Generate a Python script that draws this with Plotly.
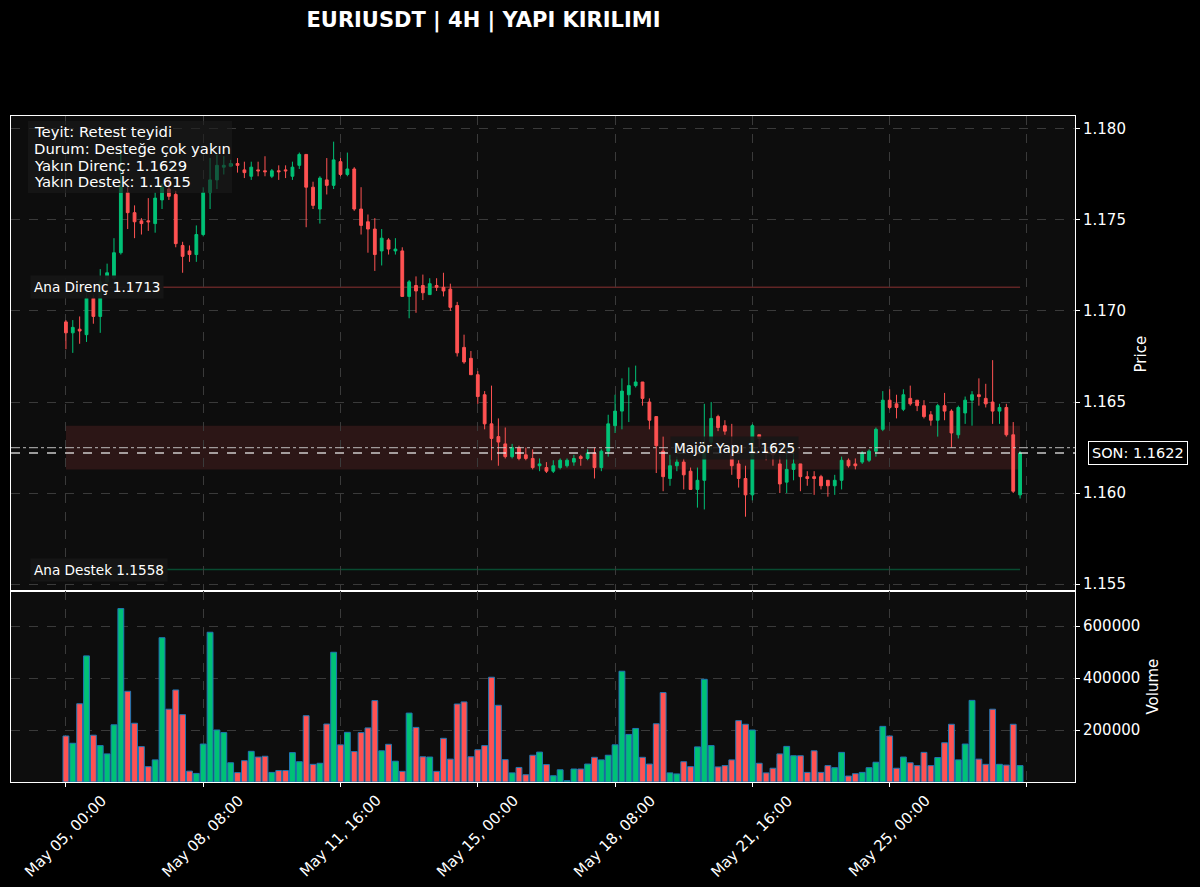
import plotly.graph_objects as go
from plotly.subplots import make_subplots

# ---------------- data (4H candles, index 0 = May 05 00:00) ----------------
opens = [1.1694,1.1688,1.1690,1.1687,1.1707,1.1697,1.1716,1.1718,1.1732,1.1765,
         1.1754,1.17495,1.17495,1.1748,1.1761,1.1767,1.1764,1.1736,1.1733,1.1731,
         1.1742,1.1765,1.1772,1.1779,1.17795,1.1781,1.17775,1.1774,1.17775,1.1777,
         1.1774,1.1777,1.17775,1.1774,1.1780,1.1786,1.1768,1.1756,1.1772,1.1769,
         1.1782,1.1775,1.1778,1.1756,1.1749,1.1745,1.1733,1.1739,1.1733,1.1733,
         1.1708,1.1714,1.1714,1.1709,1.1714,1.1713,1.1712,1.1703,1.1680,1.1674,
         1.1665,1.1654,1.1638,1.1631,1.1627,1.1620,1.1625,1.1621,1.1619,1.1615,
         1.1614,1.1612,1.1614,1.1615,1.1617,1.1620,1.1619,1.1622,1.1614,1.1623,
         1.1637,1.1645,1.1654,1.1659,1.1661,1.1650,1.1642,1.1623,1.1608,1.1615,
         1.1617,1.1612,1.1602,1.1607,1.1628,1.1642,1.1637,1.1621,1.1616,1.1608,
         1.1599,1.1632,1.1624,1.1622,1.1616,1.1606,1.1613,1.1616,1.1609,1.1609,
         1.1609,1.1607,1.1604,1.1607,1.1618,1.1616,1.1617,1.1618,1.1623,1.1635,
         1.1651,1.1649,1.1646,1.1652,1.1651,1.1648,1.1643,1.1640,1.1648,1.1645,
         1.1632,1.1644,1.1651,1.1654,1.1652,1.1650,1.1645,1.1647,1.1632,1.1599]
highs = [1.1695,1.1695,1.1697,1.1710,1.1709,1.1723,1.1726,1.1740,1.1790,1.1768,
         1.1758,1.1751,1.1762,1.1765,1.1770,1.1771,1.1766,1.1738,1.1736,1.1747,
         1.1768,1.1784,1.1786,1.1785,1.1783,1.1784,1.1782,1.1782,1.1782,1.1785,
         1.1778,1.1780,1.1780,1.1782,1.1787,1.1786,1.1771,1.1774,1.1784,1.1793,
         1.1784,1.1787,1.1779,1.1768,1.1753,1.1751,1.1745,1.1740,1.1740,1.1735,
         1.1717,1.1719,1.1720,1.1718,1.1718,1.1721,1.1715,1.1705,1.1687,1.1678,
         1.1667,1.1656,1.1659,1.1641,1.1636,1.1627,1.1626,1.1625,1.1624,1.1619,
         1.1617,1.1618,1.1619,1.1619,1.1621,1.1621,1.1624,1.1625,1.1624,1.1643,
         1.1654,1.1663,1.1669,1.1670,1.1661,1.1652,1.1642,1.1631,1.1621,1.1620,
         1.1619,1.1614,1.1614,1.1649,1.1650,1.1643,1.1640,1.1638,1.1618,1.1615,
         1.1638,1.1632,1.1627,1.1624,1.1620,1.1624,1.1626,1.1616,1.1612,1.1612,
         1.1610,1.1607,1.1610,1.1620,1.1619,1.1619,1.1623,1.1624,1.1636,1.1656,
         1.1657,1.1654,1.1657,1.1659,1.1651,1.1651,1.1645,1.1649,1.1655,1.1646,
         1.1648,1.1653,1.1656,1.1663,1.1660,1.1673,1.1649,1.1649,1.1639,1.1623]
lows = [1.1679,1.1677,1.1682,1.1683,1.1693,1.1688,1.1714,1.1717,1.1731,1.1745,
        1.1740,1.1742,1.1744,1.1743,1.1756,1.1761,1.1735,1.1721,1.1727,1.1727,
        1.1741,1.1756,1.1767,1.1775,1.1779,1.1776,1.1773,1.1772,1.1774,1.1774,
        1.1773,1.1772,1.1773,1.1772,1.1778,1.1746,1.1756,1.1748,1.1764,1.1767,
        1.1774,1.1774,1.1755,1.1742,1.1732,1.1722,1.1725,1.1731,1.1731,1.1708,
        1.1696,1.1699,1.1706,1.1709,1.1711,1.1708,1.1700,1.1675,1.1671,1.1665,
        1.1649,1.1635,1.1618,1.1615,1.1619,1.1619,1.1618,1.1618,1.1613,1.1612,
        1.1611,1.1611,1.1613,1.1614,1.1615,1.1615,1.1618,1.1608,1.1612,1.1620,
        1.1633,1.1635,1.1639,1.1658,1.1648,1.1635,1.1611,1.1601,1.1604,1.1612,
        1.1602,1.1602,1.1592,1.1591,1.1624,1.1634,1.1632,1.1610,1.1603,1.1587,
        1.1596,1.1625,1.1618,1.1615,1.1600,1.1600,1.1607,1.1601,1.1604,1.1599,
        1.1602,1.1598,1.1599,1.1602,1.1614,1.1613,1.1616,1.1617,1.1620,1.1634,
        1.1646,1.1641,1.1645,1.1648,1.1645,1.1641,1.1637,1.1631,1.1640,1.1625,
        1.1630,1.1638,1.1637,1.1648,1.1647,1.1638,1.1638,1.1631,1.1600,1.1597]
closes = [1.1688,1.1691,1.1689,1.1707,1.1697,1.1716,1.1721,1.1732,1.1768,1.1754,
          1.1749,1.1748,1.1749,1.1762,1.1768,1.1763,1.1737,1.1730,1.1731,1.1742,
          1.1765,1.1772,1.1780,1.1780,1.1781,1.1780,1.1776,1.1779,1.1777,1.17765,
          1.1777,1.17765,1.1777,1.1779,1.1786,1.1768,1.1758,1.1773,1.1769,1.1783,
          1.1775,1.1778,1.1756,1.1747,1.1745,1.1731,1.1740,1.1734,1.1734,1.1708,
          1.1716,1.1711,1.1710,1.1715,1.1713,1.1711,1.1702,1.1677,1.1672,1.1665,
          1.1653,1.1638,1.1630,1.1628,1.1620,1.1625,1.1619,1.1619,1.1614,1.1616,
          1.1612,1.1615,1.1618,1.1618,1.1619,1.1619,1.1622,1.1614,1.1623,1.1638,
          1.1645,1.1656,1.1659,1.1661,1.1652,1.1640,1.1626,1.1609,1.1615,1.1617,
          1.1610,1.1602,1.1607,1.1625,1.1641,1.1636,1.1634,1.1615,1.1608,1.1599,
          1.1637,1.1630,1.1622,1.1621,1.1605,1.1613,1.1616,1.1609,1.1608,1.1608,
          1.1604,1.1604,1.1607,1.1618,1.1615,1.1615,1.1622,1.1623,1.1635,1.1651,
          1.1647,1.1647,1.1654,1.1649,1.1648,1.1642,1.1640,1.1648,1.1645,1.1633,
          1.1647,1.1651,1.1654,1.1653,1.1649,1.1645,1.1647,1.1632,1.1601,1.1622]
volumes = [177000,149000,301000,485000,180000,140000,108000,220000,667000,349000,
           226000,136000,59000,85000,555000,280000,354000,259000,42000,33000,
           146000,576000,200000,190000,74000,36000,82000,118000,96000,99000,
           37000,44000,44000,113000,78000,255000,68000,72000,223000,499000,
           143000,191000,117000,190000,208000,313000,120000,145000,80000,41000,
           265000,210000,97000,96000,41000,168000,88000,300000,308000,97000,
           124000,140000,403000,295000,86000,35000,56000,28000,103000,115000,
           67000,24000,47000,5000,50000,50000,69000,95000,85000,103000,
           143000,426000,183000,206000,95000,69000,224000,344000,35000,31000,
           78000,59000,135000,395000,140000,58000,63000,85000,236000,222000,
           200000,72000,35000,53000,108000,137000,101000,101000,37000,120000,
           37000,63000,55000,114000,23000,32000,37000,55000,76000,214000,
           177000,53000,96000,74000,63000,114000,63000,94000,151000,222000,
           85000,146000,314000,88000,68000,280000,68000,65000,222000,63000]

tick_positions = [0, 20, 40, 60, 80, 100, 120, 140]
tick_labels = ["May 05, 00:00", "May 08, 08:00", "May 11, 16:00", "May 15, 00:00",
               "May 18, 08:00", "May 21, 16:00", "May 25, 00:00", ""]

price_ticks = [1.155, 1.160, 1.165, 1.170, 1.175, 1.180]
volume_ticks = [200000, 400000, 600000]

ana_direnc = 1.1713
ana_destek = 1.1558
major_yapi = 1.1625
zone_low, zone_high = 1.1613, 1.1637
last_price = 1.1622

info_lines = ["Teyit: Retest teyidi", "Durum: Desteğe çok yakın",
              "Yakın Direnç: 1.1629", "Yakın Destek: 1.1615"]
title_text = "EURIUSDT | 4H | YAPI KIRILIMI"

# ---------------- figure ----------------
GREEN = "#00c176"
RED = "#ff5252"
FONT = "DejaVu Sans"
idx = list(range(len(opens)))
n = len(idx)

fig = make_subplots(rows=2, cols=1, shared_xaxes=True, vertical_spacing=0,
                    row_heights=[475, 191])

fig.add_trace(go.Candlestick(
    x=idx, open=opens, high=highs, low=lows, close=closes,
    increasing=dict(line=dict(color=GREEN, width=1), fillcolor=GREEN),
    decreasing=dict(line=dict(color=RED, width=1), fillcolor=RED),
    whiskerwidth=0, showlegend=False, hoverinfo="skip"), row=1, col=1)

vol_colors = [GREEN if c >= o else RED for o, c in zip(opens, closes)]
fig.add_trace(go.Bar(
    x=idx, y=volumes, width=0.85, marker=dict(color=vol_colors,
    line=dict(color="#1f77b4", width=1)), showlegend=False, hoverinfo="skip"),
    row=2, col=1)

GRID = "#3a3a3a"
axis_common = dict(showline=True, linecolor="white", linewidth=1, mirror=True,
                   showgrid=True, gridcolor=GRID, griddash="dash", gridwidth=0.8,
                   zeroline=False)

fig.update_xaxes(range=[-8, 147], tickvals=tick_positions, **axis_common)
fig.update_xaxes(showticklabels=False, ticks="", rangeslider=dict(visible=False), row=1, col=1)
fig.update_xaxes(showticklabels=False, ticks="outside", ticklen=4, tickcolor="white",
                 row=2, col=1)

fig.update_yaxes(side="right", ticks="outside", ticklen=4, tickcolor="white",
                 tickfont=dict(color="white", size=15, family=FONT), **axis_common)
fig.update_yaxes(range=[1.15462, 1.18071], tickvals=price_ticks, tickformat=".3f",
                 row=1, col=1)
fig.update_yaxes(range=[0, 734600], tickvals=volume_ticks, tickformat="d",
                 row=2, col=1)

# zone and level lines
fig.add_shape(type="rect", xref="x", yref="y", x0=0, x1=n - 1, y0=zone_low, y1=zone_high,
              fillcolor="rgba(255,82,82,0.13)", line=dict(width=0), layer="below")
fig.add_shape(type="line", xref="x", yref="y", x0=0, x1=n - 1, y0=ana_direnc, y1=ana_direnc,
              line=dict(color="rgba(255,82,82,0.35)", width=1.5), layer="below")
fig.add_shape(type="line", xref="x", yref="y", x0=0, x1=n - 1, y0=ana_destek, y1=ana_destek,
              line=dict(color="rgba(0,193,118,0.35)", width=1.5), layer="below")
fig.add_shape(type="line", xref="x domain", yref="y", x0=0, x1=1, y0=major_yapi, y1=major_yapi,
              line=dict(color="rgba(200,200,200,0.75)", width=1.3, dash="dashdot"))
fig.add_shape(type="line", xref="x domain", yref="y", x0=0, x1=1, y0=last_price, y1=last_price,
              line=dict(color="rgba(235,235,235,0.85)", width=1.3, dash="dash"))

label_font = dict(color="white", size=13.6, family=FONT)
fig.add_annotation(x=-5.3, y=ana_direnc, xref="x", yref="y", text=f"Ana Direnç {ana_direnc:.4f}",
                   showarrow=False, xanchor="left", yanchor="middle", font=label_font,
                   bgcolor="rgba(22,22,22,0.92)", borderpad=3)
fig.add_annotation(x=-5.3, y=ana_destek, xref="x", yref="y", text=f"Ana Destek {ana_destek:.4f}",
                   showarrow=False, xanchor="left", yanchor="middle", font=label_font,
                   bgcolor="rgba(22,22,22,0.92)", borderpad=3)
fig.add_annotation(x=97.35, y=major_yapi, xref="x", yref="y", text=f"Majör Yapı {major_yapi:.4f}",
                   showarrow=False, xanchor="center", yanchor="middle", font=label_font,
                   bgcolor="rgba(22,22,22,0.85)", borderpad=3)

# info box: background + one annotation per line
fig.add_shape(type="rect", xref="x domain", yref="y domain", x0=0.016, x1=0.2077,
              y0=0.8379, y1=0.9895, fillcolor="rgba(28,28,28,0.62)", line=dict(width=0),
              layer="above")
line_pos = [0.9684, 0.9326, 0.8968, 0.8611]
for txt, yp in zip(info_lines, line_pos):
    fig.add_annotation(x=0.0197, y=yp, xref="x domain", yref="y domain", text=txt,
                       showarrow=False, xanchor="left", yanchor="middle", align="left",
                       font=dict(color="white", size=14.8, family=FONT))

# last price tag
fig.add_annotation(x=1.0592, y=last_price, xref="paper", yref="y",
                   text=f"SON: {last_price:.4f}", showarrow=False,
                   xanchor="center", yanchor="middle",
                   font=dict(color="white", size=14.5, family=FONT),
                   bgcolor="black", bordercolor="white", borderwidth=1, borderpad=3)

# axis titles
fig.add_annotation(x=1.0620, y=0.5, xref="paper", yref="y domain", text="Price",
                   textangle=-90, showarrow=False, xanchor="center", yanchor="middle",
                   font=dict(color="white", size=15, family=FONT))
fig.add_annotation(x=1.0733, y=0.5, xref="paper", yref="y2 domain", text="Volume",
                   textangle=-90, showarrow=False, xanchor="center", yanchor="middle",
                   font=dict(color="white", size=15, family=FONT))

# rotated x tick labels (centred under ticks)
for pos, lab in zip(tick_positions, tick_labels):
    if lab:
        fig.add_annotation(x=pos, y=0, xref="x2", yref="y2 domain", text=lab,
                           textangle=-45, showarrow=False, xanchor="center",
                           yanchor="top", yshift=-7,
                           font=dict(color="white", size=15, family=FONT))

fig.update_layout(
    width=1200, height=887,
    margin=dict(l=11, r=125, t=116, b=105),
    paper_bgcolor="black", plot_bgcolor="#0d0d0d",
    font=dict(family=FONT, color="white", size=15),
    title=dict(text=f"<b>{title_text}</b>", x=483.5 / 1200, xref="container",
               xanchor="center", y=1 - 20 / 887, yref="container", yanchor="middle",
               font=dict(size=21, color="white", family=FONT)),
    boxgap=0.42, bargap=0.15, showlegend=False,
)

fig.write_html("out.html")
